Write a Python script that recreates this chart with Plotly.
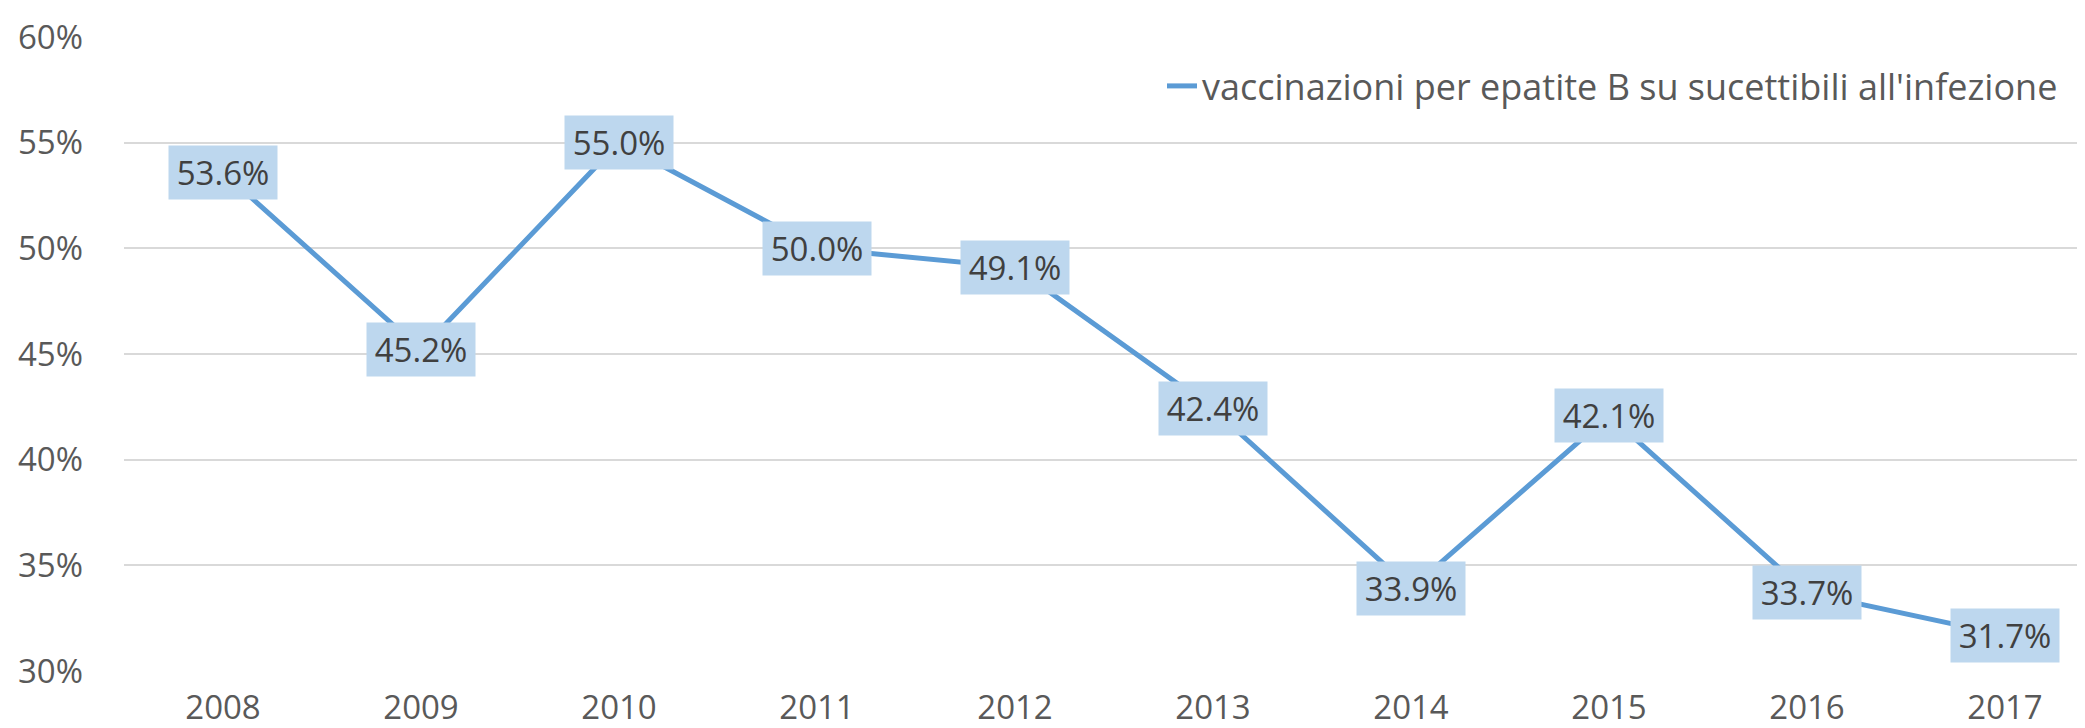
import plotly.graph_objects as go

years = ["2008", "2009", "2010", "2011", "2012", "2013", "2014", "2015", "2016", "2017"]
values = [0.536, 0.452, 0.550, 0.500, 0.491, 0.424, 0.339, 0.421, 0.337, 0.317]
series_name = "vaccinazioni per epatite B su sucettibili all'infezione"
y_ticks = [0.30, 0.35, 0.40, 0.45, 0.50, 0.55, 0.60]

W, H = 2085, 728
ML, MR, MT, MB = 116, 0, 29, 65
FONT = "Open Sans, Lato, sans-serif"

fig = go.Figure()
fig.add_trace(go.Scatter(
    x=list(range(len(years))), y=values, mode="lines", name=series_name,
    line=dict(color="#5B9BD5", width=5),
))

for i, v in enumerate(values):
    fig.add_annotation(
        x=i, y=v, xref="x", yref="y", text=f"{v*100:.1f}%", showarrow=False,
        font=dict(family=FONT, size=33, color="#404040"),
        bgcolor="#BDD7EE", borderpad=5, width=98, height=43,
        xanchor="center", yanchor="middle",
    )

fig.update_layout(
    width=W, height=H,
    margin=dict(l=ML, r=MR, t=MT, b=MB, pad=0),
    paper_bgcolor="white", plot_bgcolor="white",
    font=dict(family=FONT, size=33, color="#595959"),
    showlegend=True,
    legend=dict(
        x=(1154 - ML) / (W - ML - MR), y=(H - MB - 78) / (H - MT - MB), xanchor="left", yanchor="middle",
        font=dict(family=FONT, size=36, color="#595959"),
        bgcolor="rgba(0,0,0,0)", itemwidth=30,
    ),
    xaxis=dict(
        range=[-0.5, 9.5 - 11 / 198], tickmode="array",
        tickvals=list(range(len(years))), ticktext=years,
        showgrid=False, zeroline=False, showline=False, ticks="",
        tickfont=dict(family=FONT, size=33, color="#595959"),
        ticklabelstandoff=14, fixedrange=True,
    ),
    yaxis=dict(
        range=[0.30, 0.60], tickvals=y_ticks, tickformat=".0%",
        showgrid=True, gridcolor="#D9D9D9", gridwidth=1.5,
        zeroline=False, showline=False, ticks="",
        tickfont=dict(family=FONT, size=33, color="#595959"),
        ticklabelstandoff=40, fixedrange=True,
    ),
)

fig.write_html("out.html")
